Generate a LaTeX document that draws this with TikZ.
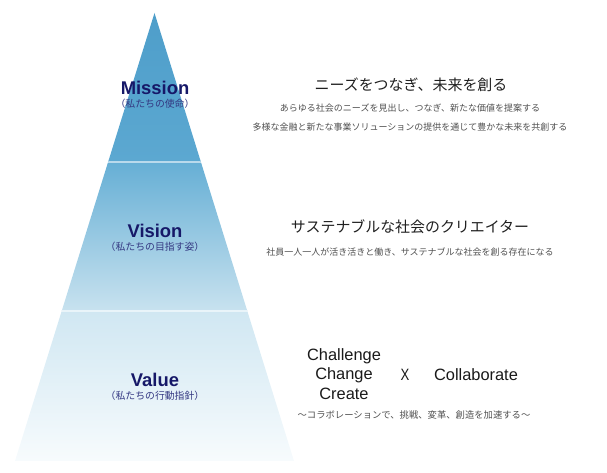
\documentclass[tikz,border=0pt]{standalone}
\usepackage{fontspec}
\setmainfont{Liberation Sans}
\newfontfamily\jpfont{Noto Sans CJK JP}
\definecolor{navytitle}{RGB}{22,24,104}
\definecolor{navysub}{RGB}{52,56,130}
\definecolor{bodygray}{RGB}{80,80,80}
\definecolor{missiontop}{RGB}{78,158,202}
\definecolor{missionbot}{RGB}{92,168,209}
\definecolor{visiontop}{RGB}{102,175,213}
\definecolor{visionbot}{RGB}{200,226,239}
\definecolor{valuetop}{RGB}{208,231,242}
\definecolor{valuebot}{RGB}{247,251,253}
\tikzset{
  title/.style={font=\fontsize{13.8}{14}\selectfont\bfseries,color=navytitle,inner sep=0.75pt},
  subtitle/.style={font=\jpfont\fontsize{7.4}{8}\selectfont,color=navysub,inner sep=0.75pt},
  headline/.style={font=\jpfont\fontsize{11.2}{12}\selectfont,color=black!88,inner sep=0.75pt},
  bodyline/.style={font=\jpfont\fontsize{6.75}{8}\selectfont,color=bodygray,inner sep=0.75pt},
  word/.style={font=\fontsize{12.3}{13}\selectfont,color=black!90,inner sep=0.75pt},
  divider/.style={color=white,draw opacity=0.55,line width=0.8pt}
}
\begin{document}
\begin{tikzpicture}[x=0.75pt,y=0.75pt,yscale=-1,xscale=1]
\useasboundingbox (0,0) rectangle (607,473);

%Shape: Triangle (pyramid)
\coordinate (apex) at (154.5,13);
\coordinate (baseleft) at (15,461);
\coordinate (baseright) at (294,461);
\begin{scope}
\clip (apex) -- (baseleft) -- (baseright) -- cycle;
\shade [top color=missiontop,bottom color=missionbot] (0,13) rectangle (310,162);
\shade [top color=visiontop,bottom color=visionbot] (0,162) rectangle (310,311);
\shade [top color=valuetop,bottom color=valuebot] (0,311) rectangle (310,461);
%Straight Lines
\draw [divider] (0,162) -- (310,162);
\draw [divider] (0,311) -- (310,311);
\end{scope}

% Text Node
\node [title] (mission) at (155,88) {Mission};
% Text Node
\node [subtitle] (missionsub) at (155,104) {（私たちの使命）};
% Text Node
\node [title] (vision) at (155,231) {Vision};
% Text Node
\node [subtitle] (visionsub) at (155,247) {（私たちの目指す姿）};
% Text Node
\node [title] (value) at (155,380) {Value};
% Text Node
\node [subtitle] (valuesub) at (155,396) {（私たちの行動指針）};

% Text Node
\node [headline] (missionhead) at (411,85) {ニーズをつなぎ、未来を創る};
% Text Node
\node [bodyline] (missionline1) at (410,108) {あらゆる社会のニーズを見出し、つなぎ、新たな価値を提案する};
% Text Node
\node [bodyline] (missionline2) at (410,127) {多様な金融と新たな事業ソリューションの提供を通じて豊かな未来を共創する};
% Text Node
\node [headline] (visionhead) at (410,227) {サステナブルな社会のクリエイター};
% Text Node
\node [bodyline] (visionline) at (410,252) {社員一人一人が活き活きと働き、サステナブルな社会を創る存在になる};

% Text Node
\node [word] (challenge) at (344,356) {Challenge};
% Text Node
\node [word] (change) at (344,375) {Change};
% Text Node
\node [word] (create) at (344,394) {Create};
% Text Node
\node [word,font=\fontsize{12.3}{13}\selectfont\addfontfeature{FakeStretch=0.8}] (cross) at (405,375) {X};
% Text Node
\node [word] (collaborate) at (476,375) {Collaborate};
% Text Node
\node [bodyline,font=\jpfont\fontsize{7}{8}\selectfont] (valueline) at (414,415) {～コラボレーションで、挑戦、変革、創造を加速する～};

\end{tikzpicture}
\end{document}
